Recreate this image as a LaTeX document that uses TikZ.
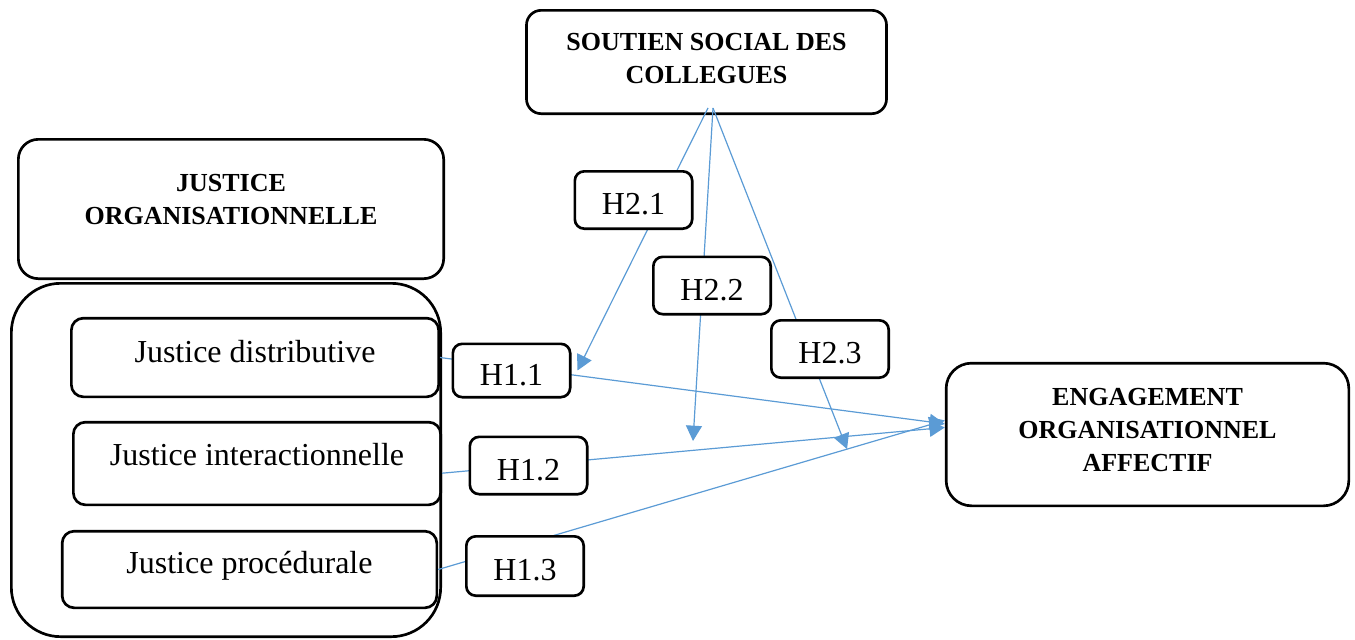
\documentclass[tikz,border=0pt]{standalone}
\usepackage{fontspec}
\setmainfont{Liberation Serif}
\usepackage{xcolor}
\usetikzlibrary{arrows.meta}
\definecolor{lienbleu}{RGB}{91,155,213}

\begin{document}
\begin{tikzpicture}[x=0.75pt,y=-0.75pt,
  bloc/.style={draw,line width=2pt,rounded corners=9pt,inner sep=0pt},
  titre/.style={bloc,font=\fontsize{19.5}{24.5}\selectfont\bfseries,align=center,text depth=0pt},
  dimension/.style={bloc,font=\fontsize{24}{28}\selectfont,text height=16pt},
  hypo/.style={bloc,fill=white,rounded corners=7pt,minimum width=88pt,minimum height=43pt,
    font=\fontsize{24}{28}\selectfont,text height=22pt,text depth=0pt},
  lien/.style={draw=lienbleu,line width=0.9pt,-{Triangle[length=11.5pt,width=12pt]}}]
\useasboundingbox (0,0) rectangle (1355,639);

\node[bloc,rounded corners=37pt,minimum width=322pt,minimum height=265pt] (groupe) at (226,460) {};
\node[titre,rounded corners=15pt,minimum width=319pt,minimum height=104.5pt,text height=22.5pt] (jorg) at (231,209) {JUSTICE\\ORGANISATIONNELLE};
\node[titre,rounded corners=11pt,minimum width=270pt,minimum height=77.5pt,text height=31.5pt] (soutien) at (706.5,62) {SOUTIEN SOCIAL DES\\COLLEGUES};
\node[titre,rounded corners=19pt,minimum width=302pt,minimum height=107pt,text height=54.75pt] (eng) at (1147.5,434.5) {ENGAGEMENT\\ORGANISATIONNEL\\AFFECTIF};

\node[dimension,minimum width=275.5pt,minimum height=59pt,text depth=9.25pt] (dist) at (255,357.5) {Justice distributive};
\node[dimension,minimum width=275.5pt,minimum height=62pt,text depth=13.75pt] (inter) at (257,463.5) {Justice interactionnelle};
\node[dimension,minimum width=281pt,minimum height=57.5pt,text depth=10.75pt] (proc) at (249.5,569.5) {Justice procédurale};

% effets directs
\draw[lien] (dist.east) -- (eng.177);
\draw[lien] (inter.-3.6) -- (eng.178.7);
\draw[lien] (proc.east) -- coordinate[pos=0.807] (m13) (eng.176.5);

\node[hypo,minimum height=40pt] (h11) at (511.5,370.5) {H1.1};
\node[hypo] (h12) at (528.5,465.5) {H1.2};
\node[hypo,minimum height=44.5pt] (h13) at (525,566) {H1.3};

% effets de moderation
\coordinate (m12) at (693,441);
\draw[lien] ([shift={(1.5,-7)}]soutien.south) -- ([xshift=4.5pt]h11.east);
\draw[lien] ([shift={(6.5,-7)}]soutien.south) -- (m12);
\draw[lien] ([shift={(6.5,-7)}]soutien.south) -- (m13);

\node[hypo] (h21) at (633.5,200) {H2.1};
\node[hypo] (h22) at (712,285.5) {H2.2};
\node[hypo] (h23) at (830,349) {H2.3};

\end{tikzpicture}
\end{document}
